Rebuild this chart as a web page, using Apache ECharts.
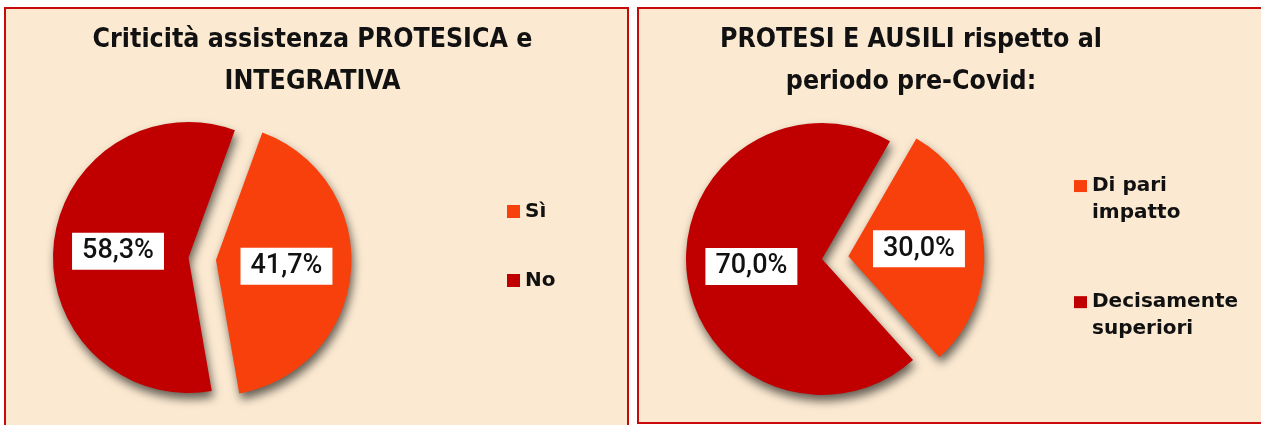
<!DOCTYPE html>
<html>
<head>
<meta charset="utf-8">
<script src="https://cdn.jsdelivr.net/npm/echarts@6/dist/echarts.min.js"></script>
<style>
  html, body { margin: 0; padding: 0; background: #ffffff; }
  #chart { width: 1261px; height: 425px; }
</style>
</head>
<body>
<div id="chart"></div>
<script>
// Panel 1: "Criticità assistenza PROTESICA e INTEGRATIVA"
const leftTitle = 'Criticità assistenza PROTESICA e\nINTEGRATIVA';
const leftCategories = ['Sì', 'No'];
const leftValues = [41.7, 58.3];

// Panel 2: "PROTESI E AUSILI rispetto al periodo pre-Covid:"
const rightTitle = 'PROTESI E AUSILI rispetto al\nperiodo pre-Covid:';
const rightCategories = ['Di pari\nimpatto', 'Decisamente\nsuperiori'];
const rightValues = [30.0, 70.0];

const ORANGE = '#F8400C';
const RED = '#C00000';
const PANEL_BG = '#FBE9D1';
const PANEL_BORDER = '#C80A0A';

const TITLE_FONT = '"DejaVu Sans Condensed", "DejaVu Sans", sans-serif';
const LEGEND_FONT = '"DejaVu Sans", sans-serif';
const LABEL_FONT = 'Roboto, "Noto Sans", sans-serif';

function pctLabel(p) {
  return p.value.toFixed(1).replace('.', ',') + '%';
}

function buildData(cats, vals) {
  // first slice (orange) is pulled out of the pie
  return cats.map((c, i) => ({
    name: c,
    value: vals[i],
    selected: i === 0,
    itemStyle: { color: i === 0 ? ORANGE : RED }
  }));
}

function pieSeries(cats, vals, center, radius, startAngle, offset) {
  return {
    type: 'pie',
    center: center,
    radius: radius,
    startAngle: startAngle,
    clockwise: true,
    selectedMode: 'multiple',
    selectedOffset: offset,
    silent: true,
    avoidLabelOverlap: false,
    itemStyle: {
      borderWidth: 0,
      shadowBlur: 10,
      shadowOffsetX: 2,
      shadowOffsetY: 6,
      shadowColor: 'rgba(0,0,0,0.6)'
    },
    label: {
      show: true,
      position: 'inside',
      formatter: pctLabel,
      color: '#111111',
      backgroundColor: '#ffffff',
      padding: [6, 10, 4, 10],
      fontFamily: LABEL_FONT,
      fontSize: 27,
      fontWeight: 500
    },
    labelLine: { show: false },
    emphasis: { disabled: true },
    data: buildData(cats, vals)
  };
}

const chart = echarts.init(document.getElementById('chart'), null, { renderer: 'canvas' });

chart.setOption({
  animation: false,
  backgroundColor: '#ffffff',
  graphic: [
    {
      type: 'rect', z: -10,
      shape: { x: 5, y: 8, width: 623, height: 440 },
      style: { fill: PANEL_BG, stroke: PANEL_BORDER, lineWidth: 2 }
    },
    {
      type: 'rect', z: -10,
      shape: { x: 638, y: 8, width: 640, height: 415 },
      style: { fill: PANEL_BG, stroke: PANEL_BORDER, lineWidth: 2 }
    }
  ],
  title: [
    {
      text: leftTitle,
      left: 312.5, top: 19, padding: 0,
      textAlign: 'center',
      textStyle: {
        fontFamily: TITLE_FONT, fontSize: 26.5, fontWeight: 'bold',
        color: '#111111', lineHeight: 42
      }
    },
    {
      text: rightTitle,
      left: 911, top: 19, padding: 0,
      textAlign: 'center',
      textStyle: {
        fontFamily: TITLE_FONT, fontSize: 26.5, fontWeight: 'bold',
        color: '#111111', lineHeight: 42
      }
    }
  ],
  legend: [
    {
      seriesIndex: 0,
      data: leftCategories,
      orient: 'vertical',
      left: 507, top: 199.5,
      padding: 0,
      icon: 'rect',
      itemWidth: 13, itemHeight: 13,
      itemGap: 45,
      selectedMode: false,
      textStyle: {
        fontFamily: LEGEND_FONT, fontSize: 20, fontWeight: 'bold',
        color: '#111111', lineHeight: 24
      }
    },
    {
      data: rightCategories,
      orient: 'vertical',
      left: 1074, top: 146,
      padding: 0,
      icon: 'rect',
      itemWidth: 13, itemHeight: 12,
      itemGap: 36,
      selectedMode: false,
      // leading blank line keeps the marker level with the first text line
      formatter: name => '\n' + name,
      textStyle: {
        fontFamily: LEGEND_FONT, fontSize: 20, fontWeight: 'bold',
        color: '#111111', lineHeight: 26.7
      }
    }
  ],
  series: [
    pieSeries(leftCategories, leftValues, [188.5, 257.5], 135.5, 70, 27.6),
    pieSeries(rightCategories, rightValues, [822, 259], 136, 60, 26.5)
  ]
});
</script>
</body>
</html>
